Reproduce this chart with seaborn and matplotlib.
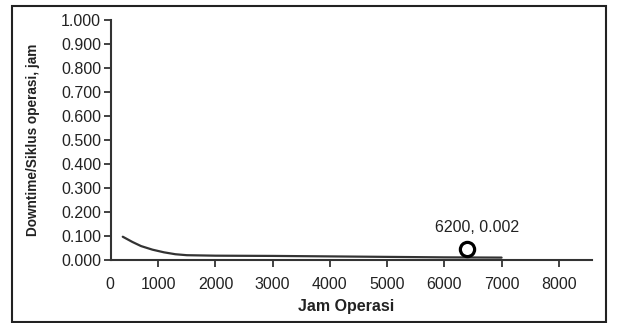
import matplotlib
matplotlib.use("Agg")
import matplotlib.pyplot as plt
import matplotlib.transforms as mtrans
import seaborn as sns
import pandas as pd
from matplotlib.patches import Rectangle

sns.set_theme(style="white")
plt.rcParams['font.family'] = ['Liberation Sans', 'DejaVu Sans']

# data
jam_operasi = [380, 550, 700, 900, 1100, 1300, 1500, 2000, 3000, 4000, 5000, 6000, 7000]
downtime = [0.097, 0.075, 0.058, 0.043, 0.032, 0.024, 0.020, 0.018, 0.017, 0.015, 0.013, 0.011, 0.010]
point_x = [6400]
point_y = [0.045]
point_label = "6200, 0.002"
x_ticks = [0, 1000, 2000, 3000, 4000, 5000, 6000, 7000, 8000]
y_ticks = [0.0, 0.1, 0.2, 0.3, 0.4, 0.5, 0.6, 0.7, 0.8, 0.9, 1.0]

df = pd.DataFrame({"x": jam_operasi, "y": downtime})
dp = pd.DataFrame({"x": point_x, "y": point_y})

W, H = 618, 323
fig = plt.figure(figsize=(W / 100, H / 100), dpi=100)
ax = fig.add_axes([101 / W, (H - 260) / H, (592 - 101) / W, (260 - 20) / H])

sns.lineplot(data=df, x="x", y="y", ax=ax, color="#333333", linewidth=1.6)
sns.scatterplot(data=dp, x="x", y="y", ax=ax, s=105, facecolor="white",
                edgecolor="black", linewidth=2.3, zorder=5)
ax.annotate(point_label, (point_x[0], point_y[0]), xytext=(7, 10),
            textcoords="offset points", ha="center", va="bottom",
            fontsize=11.5, color="#222222")

ax.set_xlim(0, 8580)
ax.set_ylim(0, 1.0)
ax.set_xticks(x_ticks)
ax.set_xticklabels([str(t) for t in x_ticks])
ax.set_yticks(y_ticks)
ax.set_yticklabels([f"{t:.3f}" for t in y_ticks])
ax.tick_params(axis="both", direction="out", length=5, width=1.3, colors="#333333",
               labelsize=11.5, labelcolor="#222222", pad=2, bottom=True, left=True)
ax.tick_params(axis="x", pad=7)

# y axis crosses a little right of x=0, as in the reference
ax.spines["left"].set_position(("data", 170))
ax.spines["bottom"].set_bounds(170, 8580)
first_tick = ax.xaxis.get_major_ticks()[0]
first_tick.tick1line.set_visible(False)
first_tick.label1.set_transform(first_tick.label1.get_transform() +
                                mtrans.ScaledTranslation(9 / 100, 0, fig.dpi_scale_trans))

for s in ["top", "right"]:
    ax.spines[s].set_visible(False)
for s in ["left", "bottom"]:
    ax.spines[s].set_color("#333333")
    ax.spines[s].set_linewidth(1.5)

ax.set_xlabel("Jam Operasi", fontsize=11.5, fontweight="bold", color="#222222", labelpad=5)
ax.set_ylabel("Downtime/Siklus operasi, jam", fontsize=9.8, fontweight="bold",
              color="#222222", labelpad=6)
ax.yaxis.set_label_coords(-(101 - 40) / (592 - 101), 0.5)
ax.set_facecolor("white")

fig.patches.append(Rectangle((12 / W, 1 / H), (606 - 12) / W, (317 - 1) / H,
                             transform=fig.transFigure, fill=False,
                             edgecolor="#222222", linewidth=1.5))

fig.savefig("out.png", dpi=100)
